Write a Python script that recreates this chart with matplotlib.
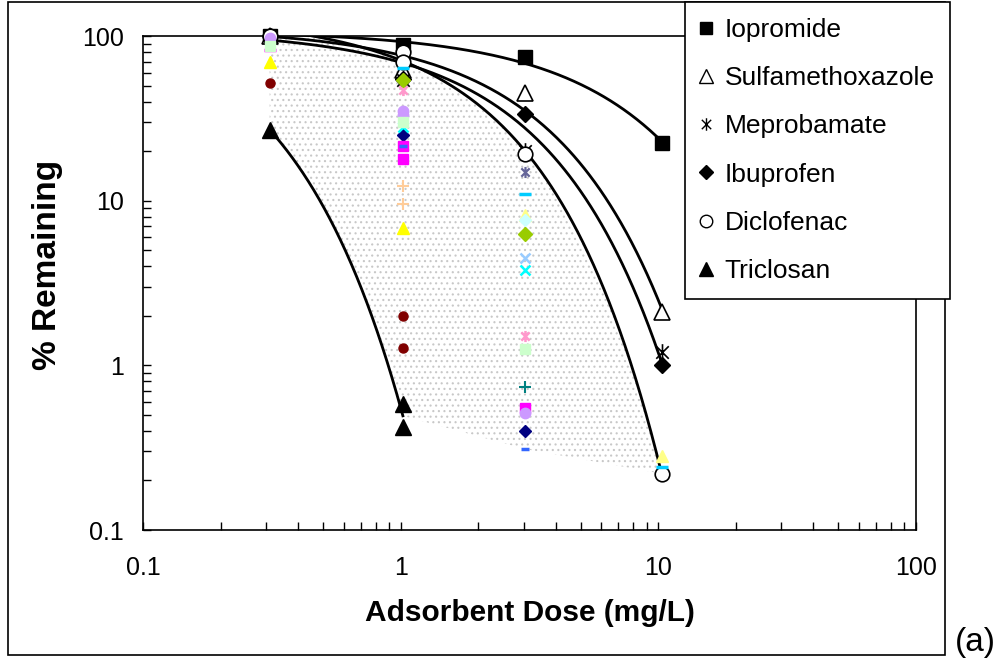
import numpy as np
import matplotlib
matplotlib.use('Agg')
import matplotlib.pyplot as plt
from matplotlib.patches import Rectangle, Polygon
from matplotlib.lines import Line2D
from matplotlib.path import Path
from matplotlib.ticker import FixedLocator, FixedFormatter, LogLocator, NullFormatter

plt.rcParams['font.family'] = ['Liberation Sans', 'DejaVu Sans']
plt.rcParams['hatch.linewidth'] = 0.8

# ---------------- data ----------------
tick_values = [0.1, 1, 10, 100]
tick_labels = ['0.1', '1', '10', '100']

# legend compounds
iopromide_x = [0.31, 1.02, 3.05, 10.3]
iopromide_y = [100, 88, 75, 22.4]
sulfa_x = [0.31, 1.02, 3.05, 10.3]
sulfa_y = [100, 62, 45, 2.1]
mepro_x = [0.31, 1.02, 3.05, 10.3]
mepro_y = [100, 54, 20, 1.2]
ibu_x = [0.31, 1.02, 3.05, 10.3]
ibu_y = [100, 55, 33.6, 1.0]
diclo_x = [0.31, 1.02, 1.02, 3.05, 10.3]
diclo_y = [100, 80, 70, 19.3, 0.22]
triclo_x = [0.31, 1.02, 1.02]
triclo_y = [27, 0.58, 0.42]

# other (unlabelled) compounds
navy_diamond_x = [1.02, 3.05]
navy_diamond_y = [25, 0.40]
magenta_square_x = [1.02, 1.02, 3.05]
magenta_square_y = [21.5, 18, 0.55]
magenta_dash_x = [0.31]
magenta_dash_y = [82]
yellow_tri_x = [0.31, 1.02]
yellow_tri_y = [70, 6.8]
paleyellow_tri_x = [3.05, 10.3]
paleyellow_tri_y = [8.2, 0.28]
cyan_x_x = [1.02, 3.05]
cyan_x_y = [28, 3.8]
lightblue_x_x = [3.05]
lightblue_x_y = [4.5]
darkred_circle_x = [0.31, 1.02, 1.02]
darkred_circle_y = [52, 2.0, 1.27]
teal_plus_x = [3.05]
teal_plus_y = [0.74]
peach_plus_x = [1.02, 1.02]
peach_plus_y = [12.3, 9.5]
blue_dash_x = [1.02, 3.05]
blue_dash_y = [21.5, 0.31]
skyblue_dash_x = [1.02, 3.05, 10.3]
skyblue_dash_y = [64, 11, 0.24]
slate_aster_x = [3.05]
slate_aster_y = [15]
lavender_circle_x = [0.31, 1.02, 1.02, 3.05]
lavender_circle_y = [97, 35, 33, 0.51]
mint_square_x = [0.31, 1.02, 3.05]
mint_square_y = [87, 30, 1.26]
pink_aster_x = [1.02, 3.05]
pink_aster_y = [47, 1.5]
olive_diamond_x = [1.02, 3.05]
olive_diamond_y = [54, 6.3]
icecyan_diamond_x = [3.05]
icecyan_diamond_y = [7.6]

# ---------------- figure ----------------
W, H = 1007, 667
fig = plt.figure(figsize=(W / 100, H / 100), dpi=100)
ax = fig.add_axes([143 / W, 1 - 530 / H, (916 - 143) / W, (530 - 36) / H])
ax.set_xscale('log')
ax.set_yscale('log')
ax.set_xlim(0.1, 100)
ax.set_ylim(0.1, 100)

aster = Path([(0, -1), (0, 1), (-0.75, -0.75), (0.75, 0.75), (-0.75, 0.75), (0.75, -0.75)],
             [Path.MOVETO, Path.LINETO] * 3)


def expfit(xs, ys):
    xs = np.asarray(xs, float)
    ys = np.asarray(ys, float)
    b, a = np.polyfit(xs, np.log(ys), 1)
    xx = np.geomspace(xs.min(), xs.max(), 300)
    return xx, np.exp(a + b * xx)


# shaded range region
ux, uy = expfit(diclo_x, diclo_y)
tx, ty = expfit(triclo_x, triclo_y)
all_x = np.concatenate([iopromide_x, sulfa_x, mepro_x, ibu_x, diclo_x, triclo_x,
                        navy_diamond_x, magenta_square_x, blue_dash_x, lavender_circle_x,
                        teal_plus_x, skyblue_dash_x, paleyellow_tri_x])
all_y = np.concatenate([iopromide_y, sulfa_y, mepro_y, ibu_y, diclo_y, triclo_y,
                        navy_diamond_y, magenta_square_y, blue_dash_y, lavender_circle_y,
                        teal_plus_y, skyblue_dash_y, paleyellow_tri_y])
low_pts = []
for d in sorted(set(all_x.tolist())):
    if d > max(triclo_x):
        low_pts.append((d, all_y[all_x == d].min()))
lower_x = list(tx) + [p[0] for p in low_pts]
lower_y = list(ty) + [p[1] for p in low_pts]
poly_x = list(ux) + lower_x[::-1]
poly_y = list(np.minimum(uy, 100)) + lower_y[::-1]
ax.add_patch(Polygon(np.column_stack([poly_x, poly_y]), closed=True, facecolor='none',
                     edgecolor='#c8c8c8', linewidth=0, hatch='...', zorder=1))

# trend lines
for xs, ys in [(iopromide_x, iopromide_y), (sulfa_x, sulfa_y), (ibu_x, ibu_y),
               (diclo_x, diclo_y), (triclo_x, triclo_y)]:
    xx, yy = expfit(xs, ys)
    ax.plot(xx, yy, color='black', lw=2.0, zorder=2)

# black markers
black_specs = [
    (iopromide_x, iopromide_y, dict(marker='s', ms=10, mfc='black', mec='black')),
    (sulfa_x, sulfa_y, dict(marker='^', ms=12, mfc='white', mec='black', mew=1.2)),
    (mepro_x, mepro_y, dict(marker=aster, ms=12, mfc='none', mec='black', mew=1.2)),
    (ibu_x, ibu_y, dict(marker='D', ms=8.5, mfc='black', mec='black')),
    (diclo_x, diclo_y, dict(marker='o', ms=10.5, mfc='white', mec='black', mew=1.2)),
    (triclo_x, triclo_y, dict(marker='^', ms=12, mfc='black', mec='black')),
]
for xs, ys, kw in black_specs:
    ax.plot(xs, ys, ls='none', zorder=3, clip_on=False, **kw)

# colored markers
col_specs = [
    (navy_diamond_x, navy_diamond_y, dict(marker='D', ms=6, mfc='#000080', mec='#000080')),
    (magenta_square_x, magenta_square_y, dict(marker='s', ms=7, mfc='#ff00ff', mec='#ff00ff')),
    (magenta_dash_x, magenta_dash_y, dict(marker='_', ms=9, mec='#ff00ff', mew=2.5)),
    (yellow_tri_x, yellow_tri_y, dict(marker='^', ms=8, mfc='#ffff00', mec='#ffff00')),
    (paleyellow_tri_x, paleyellow_tri_y, dict(marker='^', ms=8, mfc='#ffff88', mec='#ffff88')),
    (cyan_x_x, cyan_x_y, dict(marker='x', ms=7, mec='#00ffff', mew=1.8)),
    (lightblue_x_x, lightblue_x_y, dict(marker='x', ms=7, mec='#99ccff', mew=1.8)),
    (darkred_circle_x, darkred_circle_y, dict(marker='o', ms=6.5, mfc='#800000', mec='#800000')),
    (teal_plus_x, teal_plus_y, dict(marker='+', ms=8, mec='#008080', mew=1.5)),
    (peach_plus_x, peach_plus_y, dict(marker='+', ms=9, mec='#ffcc99', mew=1.5)),
    (blue_dash_x, blue_dash_y, dict(marker='_', ms=6, mec='#3366ff', mew=2.5)),
    (skyblue_dash_x, skyblue_dash_y, dict(marker='_', ms=9, mec='#00ccff', mew=2.5)),
    (slate_aster_x, slate_aster_y, dict(marker=aster, ms=8, mfc='none', mec='#666699', mew=1.6)),
    (lavender_circle_x, lavender_circle_y, dict(marker='o', ms=7.5, mfc='#cc99ff', mec='#cc99ff')),
    (mint_square_x, mint_square_y, dict(marker='s', ms=7, mfc='#ccffcc', mec='#ccffcc')),
    (pink_aster_x, pink_aster_y, dict(marker=aster, ms=8, mfc='none', mec='#ff99cc', mew=1.8)),
    (olive_diamond_x, olive_diamond_y, dict(marker='D', ms=7, mfc='#99cc00', mec='#99cc00')),
    (icecyan_diamond_x, icecyan_diamond_y, dict(marker='D', ms=6, mfc='#ccffff', mec='#ccffff')),
]
for xs, ys, kw in col_specs:
    ax.plot(xs, ys, ls='none', zorder=4, clip_on=False, **kw)

# axes styling
for sp in ax.spines.values():
    sp.set_linewidth(1.2)
    sp.set_color('black')
ax.xaxis.set_major_locator(FixedLocator(tick_values))
ax.xaxis.set_major_formatter(FixedFormatter(tick_labels))
ax.yaxis.set_major_locator(FixedLocator(tick_values))
ax.yaxis.set_major_formatter(FixedFormatter(tick_labels))
ax.xaxis.set_minor_locator(LogLocator(base=10, subs=np.arange(2, 10)))
ax.yaxis.set_minor_locator(LogLocator(base=10, subs=np.arange(2, 10)))
ax.xaxis.set_minor_formatter(NullFormatter())
ax.yaxis.set_minor_formatter(NullFormatter())
ax.tick_params(which='both', direction='in', top=False, right=False, length=5.5, width=1)
ax.tick_params(axis='x', which='major', labelsize=18, pad=19)
ax.tick_params(axis='y', which='major', labelsize=18, pad=14)

fig.text(530 / W, 1 - 613 / H, 'Adsorbent Dose (mg/L)', ha='center', va='center',
         fontsize=21.5, fontweight='bold')
fig.text(48 / W, 1 - 265 / H, '% Remaining', ha='center', va='center',
         fontsize=24, fontweight='bold', rotation=90)
fig.text(975 / W, 1 - 642 / H, '(a)', ha='center', va='center', fontsize=24)

# outer frame
fig.patches.append(Rectangle((8 / W, 1 - 655 / H), (945 - 8) / W, (655 - 2) / H,
                             transform=fig.transFigure, fill=False, lw=1.2, ec='black'))

# legend
labels = ['Iopromide', 'Sulfamethoxazole', 'Meprobamate', 'Ibuprofen', 'Diclofenac', 'Triclosan']
handles = [
    Line2D([], [], ls='none', marker='s', ms=9, mfc='black', mec='black'),
    Line2D([], [], ls='none', marker='^', ms=10, mfc='white', mec='black', mew=1.0),
    Line2D([], [], ls='none', marker=aster, ms=9, mfc='none', mec='black', mew=1.0),
    Line2D([], [], ls='none', marker='D', ms=7.5, mfc='black', mec='black'),
    Line2D([], [], ls='none', marker='o', ms=9, mfc='white', mec='black', mew=1.0),
    Line2D([], [], ls='none', marker='^', ms=10, mfc='black', mec='black'),
]
leg = fig.legend(handles, labels, loc='upper left', bbox_to_anchor=(685 / W, 1 - 2 / H),
                 fontsize=19, frameon=True, fancybox=False, framealpha=1, edgecolor='black',
                 handlelength=0.4, handletextpad=0.5, labelspacing=0.92, borderpad=0.6,
                 borderaxespad=0)
leg.get_frame().set_linewidth(1.2)

fig.savefig('out.png', dpi=100)
